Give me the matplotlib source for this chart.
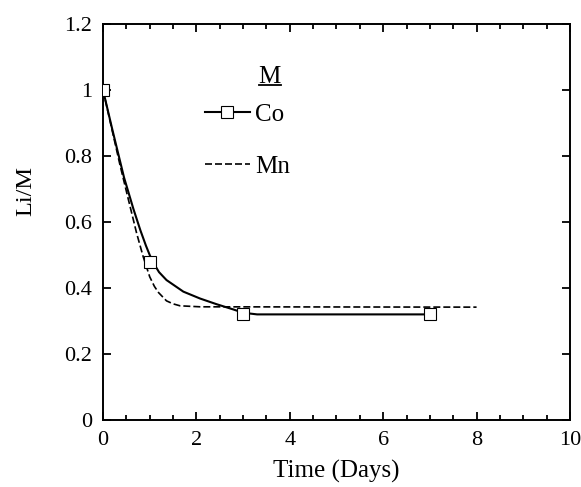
import matplotlib
matplotlib.use("Agg")
import matplotlib.pyplot as plt
from matplotlib.lines import Line2D

plt.rcParams['font.family'] = ['Liberation Serif', 'DejaVu Serif']

# measured points (Co)
co_days = [0, 1, 3, 7]
co_ratio = [1.0, 0.48, 0.32, 0.32]

# smooth Co trend line
co_line_days = [0, 0.2, 0.45, 0.65, 0.8, 0.92, 1.0, 1.08, 1.2, 1.36, 1.72, 2.08, 2.43, 2.79, 3.0, 3.3, 7]
co_line_ratio = [1.0, 0.88, 0.735, 0.64, 0.575, 0.528, 0.50, 0.476, 0.448, 0.424, 0.389, 0.368, 0.351, 0.335, 0.325, 0.32, 0.32]

# Mn trend line
mn_days = [0, 0.2, 0.36, 0.54, 0.72, 0.86, 1.0, 1.1, 1.19, 1.36, 1.5, 1.65, 2.08, 8]
mn_ratio = [1.0, 0.875, 0.775, 0.67, 0.566, 0.495, 0.434, 0.405, 0.386, 0.361, 0.352, 0.346, 0.343, 0.342]

fig = plt.figure(figsize=(5.81, 4.87), dpi=100)
ax = fig.add_axes([0.1773, 0.1376, 0.8037, 0.8131])

co_ln, = ax.plot(co_line_days, co_line_ratio, color='black', lw=1.5, zorder=2)
co_mk, = ax.plot(co_days, co_ratio, ls='none', marker='s', ms=8,
                 mfc='white', mec='black', mew=0.8, zorder=3)
mn_ln, = ax.plot(mn_days, mn_ratio, color='black', lw=1.2,
                 dashes=(4.2, 1.8), zorder=2)

ax.set_xlim(0, 10)
ax.set_ylim(0, 1.2)
ax.set_xticks([0, 2, 4, 6, 8, 10])
ax.set_xticks([i * 0.5 for i in range(21)], minor=True)
ax.set_yticks([0, 0.2, 0.4, 0.6, 0.8, 1.0, 1.2])
ax.set_yticklabels(['0', '0.2', '0.4', '0.6', '0.8', '1', '1.2'])

ax.tick_params(which='both', direction='in', top=True, right=True,
               labelsize=16, width=1.3)
ax.tick_params(which='major', length=6, pad=8)
ax.tick_params(which='minor', length=3.6)
for s in ax.spines.values():
    s.set_linewidth(1.4)

ax.set_xlabel('Time (Days)', fontsize=18, labelpad=7)
ax.set_ylabel('Li/M', fontsize=17.5, labelpad=20)
ax.yaxis.label.set_y(0.578)

leg = ax.legend([(co_ln, co_mk), mn_ln], ['Co', 'Mn'],
                fontsize=18, frameon=False, loc='upper left',
                bbox_to_anchor=(0.2184, 0.80), borderaxespad=0, borderpad=0,
                handlelength=1.8, handletextpad=0.2, labelspacing=1.2)

# legend heading, underlined
title = ax.text(0.357, 0.866, 'M', transform=ax.transAxes, fontsize=18,
                ha='center', va='center')
fig.canvas.draw()
bb = title.get_window_extent().transformed(fig.transFigure.inverted())
fig.add_artist(Line2D([bb.x0, bb.x1], [bb.y0 + 0.006, bb.y0 + 0.006],
                      transform=fig.transFigure, color='black', lw=1.3))

fig.savefig('out.png', dpi=100)
